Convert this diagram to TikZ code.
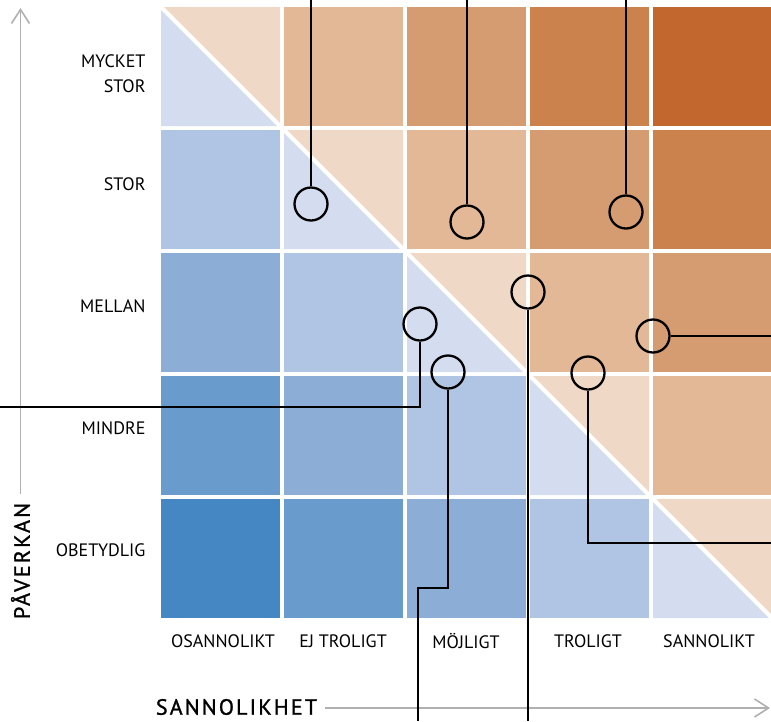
\documentclass[tikz,border=0pt]{standalone}
\usepackage{fontspec}
\setmainfont{PT Sans}
\newfontfamily\axisfont[LetterSpace=10,FakeBold=1.2]{PT Sans}
\usetikzlibrary{arrows.meta}

% colours, from deep blue (risk0) to deep orange (risk8)
\definecolor{risk0}{HTML}{4487C3}
\definecolor{risk1}{HTML}{6A9BCD}
\definecolor{risk2}{HTML}{8CADD6}
\definecolor{risk3}{HTML}{B0C5E3}
\definecolor{risk5}{HTML}{E3B897}
\definecolor{risk6}{HTML}{D59B71}
\definecolor{risk7}{HTML}{CC824D}
\definecolor{risk8}{HTML}{C2682F}
\definecolor{diagblue}{HTML}{D4DDEF}
\definecolor{diagorange}{HTML}{F0D8C6}
\definecolor{axisgray}{HTML}{B0B0B0}

\tikzset{
  axis/.style={draw=axisgray, line width=1.6pt, -{Straight Barb[length=14pt,width=18pt]}},
  marker/.style={circle, draw=black, line width=2.3pt, minimum size=33pt, inner sep=0pt},
  lead/.style={black, line width=2.3pt},
  rowlab/.style={anchor=east, align=right, font=\fontsize{18}{25}\selectfont},
  collab/.style={font=\fontsize{18}{22}\selectfont},
  axislab/.style={font=\axisfont\fontsize{22}{25}\selectfont}
}

\begin{document}
\begin{tikzpicture}[x=1pt, y={(0pt,-1pt)}]
  \useasboundingbox (0,0) rectangle (771,721);
  % risk matrix
  \foreach \c in {0,...,4} {
    \foreach \r in {0,...,4} {
      \pgfmathtruncatemacro\k{\c-\r+4}
      \ifnum\c=\r
        \fill[diagblue] (161+123*\c,7+123*\r) -- ++(0,119) -- ++(119,0) -- cycle;
        \fill[diagorange] (161+123*\c,7+123*\r) -- ++(119,0) -- ++(0,119) -- cycle;
      \else
        \fill[risk\k] (161+123*\c,7+123*\r) rectangle ++(119,119);
      \fi
    }
  }
  \draw[white, line width=4pt] (161,7) -- (780,626);

  % axes
  \coordinate (yfoot) at (20.5,494);
  \coordinate (ytip) at (20.5,8);
  \coordinate (xfoot) at (325,708);
  \coordinate (xtip) at (770,708);
  \draw[axis] (yfoot) -- (ytip);
  \draw[axis] (xfoot) -- (xtip);
  \node[axislab, rotate=90] (paverkan) at (20.5,561) {PÅVERKAN};
  \node[axislab] (sannolikhet) at (236.5,707) {SANNOLIKHET};

  % row and column labels
  \node[rowlab] (lmycket) at (149,74) {MYCKET\\STOR};
  \node[rowlab] (lstor) at (149,184) {STOR};
  \node[rowlab] (lmellan) at (149,306) {MELLAN};
  \node[rowlab] (lmindre) at (149,428) {MINDRE};
  \node[rowlab] (lobetydlig) at (149,550) {OBETYDLIG};
  \node[collab] (losannolikt) at (223,641) {OSANNOLIKT};
  \node[collab] (lejtroligt) at (343,641) {EJ TROLIGT};
  \node[collab] (lmojligt) at (466,641) {MÖJLIGT};
  \node[collab] (ltroligt) at (588,641) {TROLIGT};
  \node[collab] (lsannolikt) at (709,641) {SANNOLIKT};

  % markers with leads
  \node[marker] (m1) at (311,204) {};
  \node[marker] (m2) at (467,222) {};
  \node[marker] (m3) at (626,212) {};
  \node[marker] (m4) at (528,292) {};
  \node[marker] (m5) at (420,324) {};
  \node[marker] (m6) at (448,372) {};
  \node[marker] (m7) at (653,336) {};
  \node[marker] (m8) at (588,373) {};
  \coordinate (m1end) at (311,0);
  \coordinate (m2end) at (467,0);
  \coordinate (m3end) at (626,0);
  \coordinate (m4end) at (528,721);
  \coordinate (m5end) at (0,407);
  \coordinate (m6bend) at (418,588);
  \coordinate (m6end) at (418,721);
  \coordinate (m7end) at (771,336);
  \coordinate (m8end) at (771,543);
  \draw[lead] (m1) -- (m1end);
  \draw[lead] (m2) -- (m2end);
  \draw[lead] (m3) -- (m3end);
  \draw[lead] (m4) -- (m4end);
  \draw[lead] (m5.south) |- (m5end);
  \draw[lead] (m6.south) |- (m6bend) -- (m6end);
  \draw[lead] (m7) -- (m7end);
  \draw[lead] (m8.south) |- (m8end);
\end{tikzpicture}
\end{document}
